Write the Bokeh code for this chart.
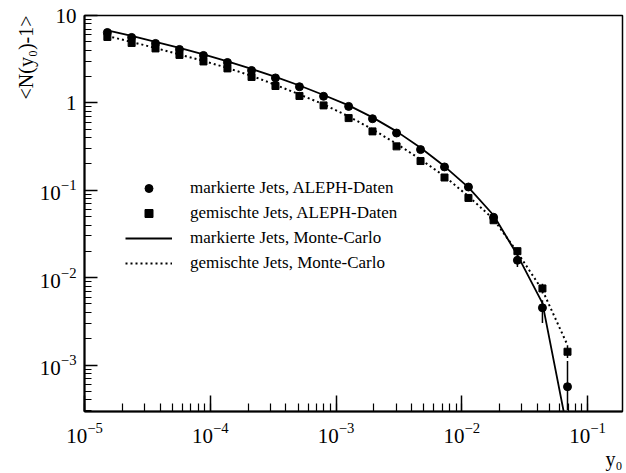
from bokeh.plotting import figure
from bokeh.models import Range1d, Legend, LegendItem, Title, LogTicker
from bokeh.embed import file_html
from bokeh.resources import INLINE

# ---- data ----
y0_values = [1.52e-5, 2.37e-5, 3.67e-5, 5.69e-5, 8.83e-5, 1.37e-4, 2.13e-4,
             3.30e-4, 5.12e-4, 7.96e-4, 1.26e-3, 1.95e-3, 3.03e-3, 4.70e-3,
             7.29e-3, 1.13e-2, 1.79e-2, 2.77e-2, 4.38e-2, 6.93e-2]

markiert_data = [6.39, 5.61, 4.79, 4.09, 3.49, 2.90, 2.35, 1.93, 1.53, 1.19,
                 0.912, 0.659, 0.452, 0.292, 0.185, 0.109, 0.0491, 0.0158,
                 0.00452, 5.65e-4]
gemischt_data = [5.68, 4.85, 4.20, 3.54, 2.98, 2.48, 1.98, 1.56, 1.20, 0.936,
                 0.670, 0.472, 0.318, 0.216, 0.140, 0.0817, 0.0454, 0.0201,
                 0.00753, 0.00142]

markiert_mc = [6.74, 5.83, 4.98, 4.25, 3.58, 2.98, 2.45, 1.98, 1.58, 1.23,
               0.936, 0.683, 0.472, 0.306, 0.188, 0.108, 0.0518, 0.0181,
               0.00512, 1.76e-4]
gemischt_mc = [5.83, 4.98, 4.25, 3.58, 3.02, 2.51, 2.04, 1.61, 1.25, 0.961,
               0.701, 0.498, 0.340, 0.226, 0.1445, 0.0853, 0.0467, 0.0195,
               0.00719, 0.00169]

# visible error bars (last points only)
markiert_err_x = [2.77e-2, 4.38e-2, 6.93e-2]
markiert_err_lo = [0.0132, 0.00302, 3.06e-4]
markiert_err_hi = [0.0181, 0.00553, 0.00111]
gemischt_err_x = [2.77e-2, 4.38e-2, 6.93e-2]
gemischt_err_lo = [0.0185, 0.0066, 0.00120]
gemischt_err_hi = [0.0220, 0.0085, 0.00169]

legend_labels = ["markierte Jets, ALEPH-Daten",
                 "gemischte Jets, ALEPH-Daten",
                 "markierte Jets, Monte-Carlo",
                 "gemischte Jets, Monte-Carlo"]
y_axis_title = "<N(y\u2080)-1>"
x_axis_title = "y\u2080"

FONT = "Liberation Serif"
W, H = 626, 473

p = figure(width=W, height=H, x_axis_type="log", y_axis_type="log",
           x_range=Range1d(1e-5, 0.1897), y_range=Range1d(2.94e-4, 10),
           output_backend="svg", toolbar_location=None,
           min_border_left=84, min_border_right=4, min_border_top=15,
           min_border_bottom=62)

p.xgrid.visible = False
p.ygrid.visible = False
p.outline_line_color = "black"
p.outline_line_width = 1.5
p.outline_line_alpha = 1.0
p.background_fill_color = "white"
p.border_fill_color = "white"

for ax, mj, mn in ((p.xaxis, 16, 8), (p.yaxis, 13, 7)):
    ax.ticker = LogTicker(num_minor_ticks=10)
    ax.axis_line_width = 2
    ax.axis_line_color = "black"
    ax.major_tick_in = mj
    ax.major_tick_out = 0
    ax.minor_tick_in = mn
    ax.minor_tick_out = 0
    ax.major_tick_line_width = 1.5
    ax.minor_tick_line_width = 1.2
    ax.major_tick_line_color = "black"
    ax.minor_tick_line_color = "black"
    ax.major_label_text_font = FONT
    ax.major_label_text_font_size = "21px"
    ax.major_label_text_color = "black"

p.xaxis.major_label_standoff = 11
p.yaxis.major_label_standoff = 8
p.yaxis.major_label_overrides = {1: "1", 10: "10"}

# curves
r_mc_m = p.line(y0_values, markiert_mc, line_color="black", line_width=1.8)
r_mc_g = p.line(y0_values, gemischt_mc, line_color="black", line_width=2,
                line_dash="2 3")

# error bars
p.segment(x0=markiert_err_x, y0=markiert_err_lo, x1=markiert_err_x,
          y1=markiert_err_hi, line_color="black", line_width=1.5)
p.segment(x0=gemischt_err_x, y0=gemischt_err_lo, x1=gemischt_err_x,
          y1=gemischt_err_hi, line_color="black", line_width=1.5)

# data points
r_d_m = p.scatter(y0_values, markiert_data, marker="circle", size=8,
                  color="black")
r_d_g = p.scatter(y0_values, gemischt_data, marker="square", size=7,
                  color="black")

legend = Legend(items=[
    LegendItem(label=legend_labels[0], renderers=[r_d_m]),
    LegendItem(label=legend_labels[1], renderers=[r_d_g]),
    LegendItem(label=legend_labels[2], renderers=[r_mc_m]),
    LegendItem(label=legend_labels[3], renderers=[r_mc_g]),
], location=(41, 138), border_line_color=None, background_fill_alpha=0,
    padding=0, margin=0, spacing=5, glyph_width=47, glyph_height=20,
    label_height=20, label_standoff=18, label_text_font=FONT,
    label_text_font_size="17px", label_text_color="black")
p.add_layout(legend)

# axis titles as side-panel titles (aligned to the top / right end)
p.add_layout(Title(text=y_axis_title, align="right", text_font=FONT,
                   text_font_size="20px", text_font_style="normal",
                   text_color="black", standoff=0, offset=0), "left")
p.add_layout(Title(text=x_axis_title, align="right", text_font=FONT,
                   text_font_size="20px", text_font_style="normal",
                   text_color="black", standoff=0, offset=0), "below")

open("out.html", "w").write(file_html(p, INLINE))
